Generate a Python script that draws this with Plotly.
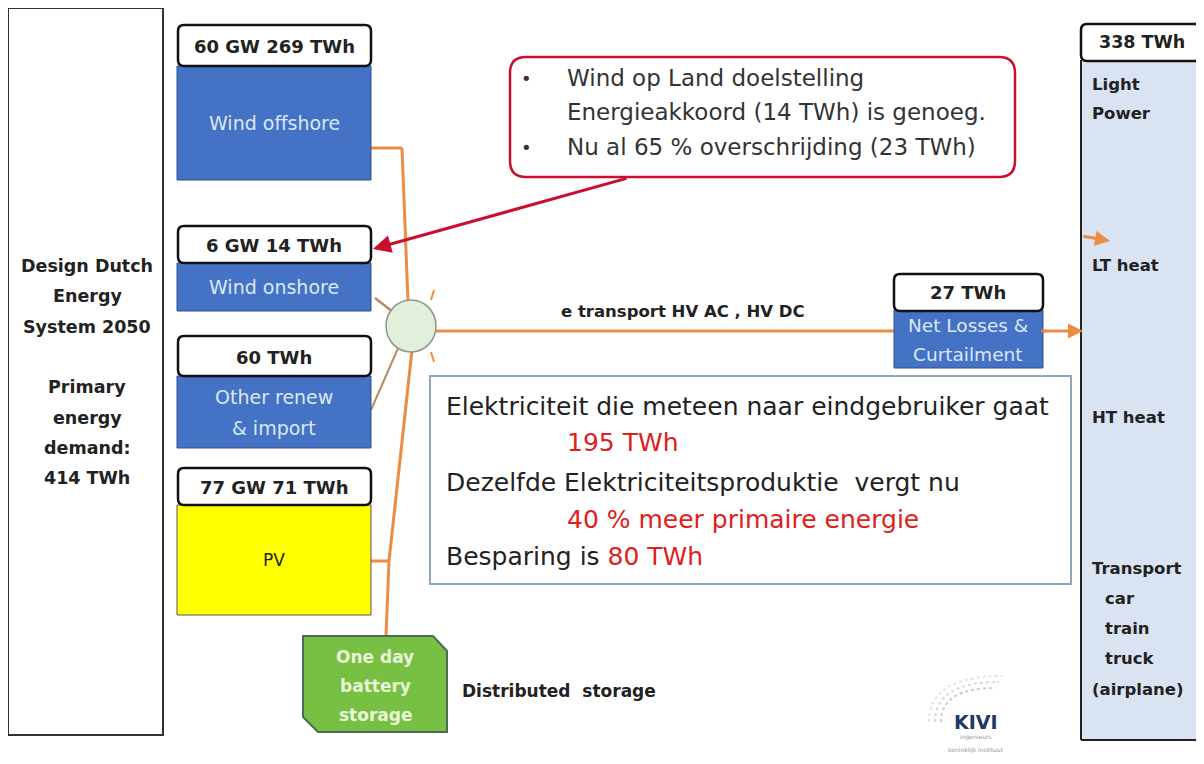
import plotly.graph_objects as go

# ── data ────────────────────────────────────────────────────────────────
source_names = ["Wind offshore", "Wind onshore", "Other renew<br>& import", "PV"]
source_gw = [60, 6, None, 77]
source_twh = [269, 14, 60, 71]
source_fill = ["#4472C4", "#4472C4", "#4472C4", "#FFFF00"]

primary_demand_twh = 414
final_demand_twh = 338
losses_twh = 27
direct_twh = 195
extra_primary_pct = 40
saving_twh = 80
onshore_target_twh = 14
onshore_overshoot_pct = 65
onshore_overshoot_twh = 23

demand_labels = ["Light", "Power", "LT heat", "HT heat", "Transport",
                 " car", "train", "truck", "(airplane)"]

# ── layout (pixel space, y downwards) ───────────────────────────────────
W, H = 1204, 764
PAD = 8  # page body margin
FONT = "'DejaVu Sans', sans-serif"
ORANGE = "#EC8C42"
BROWN = "#B98A5E"
RED = "#C8102E"
DARK = "#222222"

# (header top, header bottom, box bottom) per source
slots = [(25, 66, 180), (226, 263, 311), (336, 376, 448), (468, 505, 615)]
SX0, SX1 = 177, 371

shapes, notes = [], []


def rrect(x0, y0, x1, y1, r):
    return (f"M{x0+r},{y0} L{x1-r},{y0} Q{x1},{y0} {x1},{y0+r} "
            f"L{x1},{y1-r} Q{x1},{y1} {x1-r},{y1} L{x0+r},{y1} "
            f"Q{x0},{y1} {x0},{y1-r} L{x0},{y0+r} Q{x0},{y0} {x0+r},{y0} Z")


def rect(x0, y0, x1, y1, fill, line="#222", lw=2):
    shapes.append(dict(type="rect", x0=x0, y0=y0, x1=x1, y1=y1,
                       fillcolor=fill, line=dict(color=line, width=lw)))


def line(x0, y0, x1, y1, color=ORANGE, lw=3):
    shapes.append(dict(type="line", x0=x0, y0=y0, x1=x1, y1=y1,
                       line=dict(color=color, width=lw)))


def text(x, y, s, size=18, color=DARK, bold=False, anchor="center"):
    if bold:
        s = f"<b>{s}</b>"
    notes.append(dict(x=x, y=y, text=s, showarrow=False, xanchor=anchor,
                      yanchor="middle", font=dict(family=FONT, size=size, color=color)))


def arrow(x0, y0, x1, y1, color, lw, head=2, size=1):
    notes.append(dict(x=x1, y=y1, ax=x0, ay=y0, axref="x", ayref="y",
                      xref="x", yref="y", text="", showarrow=True,
                      arrowhead=head, arrowsize=size, arrowwidth=lw,
                      arrowcolor=color))


# connecting lines (drawn first so boxes sit on top)
line(371, 148, 402, 148)
line(402, 148, 408, 302)
line(375, 298, 393, 312, BROWN, 2.5)
line(371, 410, 399, 346, BROWN, 2)
line(412, 350, 389, 561)
line(371, 561, 389, 561)
line(389, 561, 386, 636)
line(436, 331, 1046, 331)
arrow(1040, 331, 1083, 331, ORANGE, 3)
arrow(1082, 236, 1110, 241, ORANGE, 3)
line(431, 300, 434, 290, ORANGE, 2)
line(431, 352, 434, 362, ORANGE, 2)

# hub
shapes.append(dict(type="circle", x0=386, y0=300, x1=436, y1=352,
                   fillcolor="#E2EFDA", line=dict(color="#8C968C", width=1.5)))

# left panel
rect(8, 8, 163, 735, "white", "#333", 2)
left_lines = ["Design Dutch", "Energy", "System 2050", "",
              "Primary", "energy", "demand:", f"{primary_demand_twh} TWh"]
for i, s in enumerate(left_lines):
    if s:
        text(87, 266 + i * 30.3, s, 17.5, DARK, True)

# source boxes
for name, gw, twh, fill, (ht, hb, bb) in zip(source_names, source_gw,
                                              source_twh, source_fill, slots):
    rect(SX0, hb, SX1, bb, fill, "#2F528F" if fill != "#FFFF00" else "#555", 1)
    shapes.append(dict(type="path", path=rrect(SX0 + 1, ht, SX1, hb, 6),
                       fillcolor="white", line=dict(color="#111", width=2.5)))
    label = f"{gw} GW {twh} TWh" if gw else f"{twh} TWh"
    text((SX0 + SX1) / 2, (ht + hb) / 2 + 1, label, 18, DARK, True)
    col = DARK if fill == "#FFFF00" else "#DCE8F7"
    parts = name.split("<br>")
    mid = (hb + bb) / 2
    for k, p in enumerate(parts):
        text((SX0 + SX1) / 2, mid + (k - (len(parts) - 1) / 2) * 31, p,
             19 if col != DARK else 17, col)

# battery
shapes.append(dict(type="path",
                   path="M303,636 L433,636 L447,651 L447,732 L318,732 L303,717 Z",
                   fillcolor="#77C043", line=dict(color="#4E6B55", width=2)))
for k, s in enumerate(["One day", "battery", "storage"]):
    text(375, 657 + k * 29, s, 17, "#EAF6D8", True)
text(460, 691, "Distributed  storage", 17, DARK, True, "left")

# transport label
text(683, 311, "e transport HV AC , HV DC", 16.5, DARK, True)

# net losses
rect(894, 310, 1043, 368, "#4472C4", "#2F528F", 1)
shapes.append(dict(type="path", path=rrect(894, 274, 1043, 311, 6),
                   fillcolor="white", line=dict(color="#111", width=2.5)))
text(968, 292, f"{losses_twh} TWh", 18, DARK, True)
text(968, 325, "Net Losses &", 18.5, "#DCE8F7")
text(968, 354, "Curtailment", 18.5, "#DCE8F7")

# summary box
rect(430, 376, 1071, 584, "white", "#8FA6C0", 2)
text(444, 406, "Elektriciteit die meteen naar eindgebruiker gaat", 25, DARK, anchor="left")
text(565, 442, f"{direct_twh} TWh", 25, "#E0201C", anchor="left")
text(444, 482, "Dezelfde Elektriciteitsproduktie  vergt nu", 25, DARK, anchor="left")
text(565, 519, f"{extra_primary_pct} % meer primaire energie", 25, "#E0201C", anchor="left")
text(444, 556, f"Besparing is <span style='color:#E0201C'>{saving_twh} TWh</span>",
     25, DARK, anchor="left")

# callout
arrow(628, 178, 373, 249, RED, 3, 2, 1.2)
shapes.append(dict(type="path", path=rrect(510, 57, 1015, 177, 16),
                   fillcolor="white", line=dict(color=RED, width=2.5)))
for y in (78, 147):
    text(526, y, "•", 18, "#333")
text(565, 78, "Wind op Land doelstelling", 23, "#333", anchor="left")
text(565, 112, f"Energieakkoord ({onshore_target_twh} TWh) is genoeg.", 23, "#333", anchor="left")
text(565, 147, f"Nu al {onshore_overshoot_pct} % overschrijding ({onshore_overshoot_twh} TWh)",
     23, "#333", anchor="left")

# final demand panel (cut off by the right edge)
rect(1081, 60, 1230, 740, "#DAE3F1", "rgba(0,0,0,0)", 0)
line(1081, 60, 1081, 740, "#222", 2)
line(1081, 740, 1230, 740, "#222", 2)
shapes.append(dict(type="path", path=rrect(1081, 24, 1230, 61, 6),
                   fillcolor="white", line=dict(color="#111", width=2.5)))
text(1142, 42, f"{final_demand_twh} TWh", 17.5, DARK, True)
demand_y = [84, 113, 265, 417, 568, 598, 628, 658, 689]
indented = (" car", "train", "truck")
for s, y in zip(demand_labels, demand_y):
    x = 1103 if s in indented else 1090
    text(x, y, s.strip(), 16.5, DARK, True, "left")

# KIVI mark
for r, c in ((34, "#C8CCD2"), (40, "#D6D9DE"), (46, "#E2E4E8")):
    shapes.append(dict(type="path", path=f"M{975-r},{722} Q{975-r},{722-r} {975+r*0.6},{722-r}",
                       line=dict(color=c, width=2, dash="dot")))
text(976, 722, "KIVI", 19, "#1F3864", True)
text(976, 737, "ingenieurs", 6, "#999")
text(976, 750, "koninklijk instituut", 6, "#999")

fig = go.Figure()
fig.update_layout(
    width=W - 2 * PAD, height=H - 2 * PAD, margin=dict(l=0, r=0, t=0, b=0),
    paper_bgcolor="white", plot_bgcolor="white",
    xaxis=dict(range=[PAD, W - PAD], visible=False, fixedrange=True),
    yaxis=dict(range=[H - PAD, PAD], visible=False, fixedrange=True),
    shapes=shapes, annotations=notes, showlegend=False,
)
fig.write_html("out.html")
